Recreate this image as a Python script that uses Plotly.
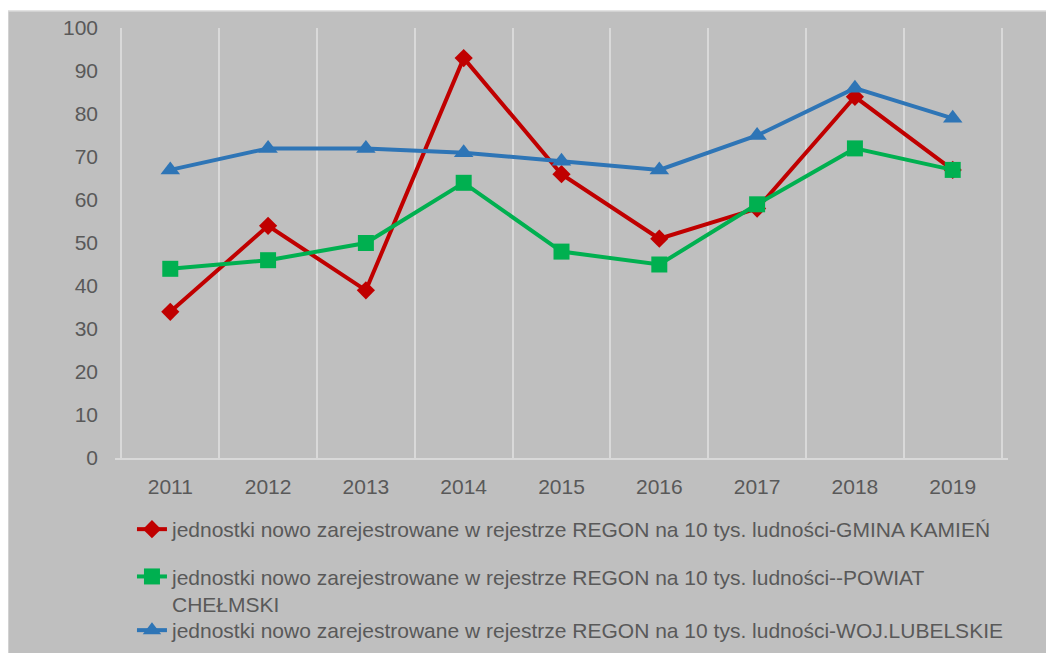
import plotly.graph_objects as go

years = ["2011", "2012", "2013", "2014", "2015", "2016", "2017", "2018", "2019"]
gmina_kamien = [34, 54, 39, 93, 66, 51, 58, 84, 67]
powiat_chelmski = [44, 46, 50, 64, 48, 45, 59, 72, 67]
woj_lubelskie = [67, 72, 72, 71, 69, 67, 75, 86, 79]

names = [
    "jednostki nowo zarejestrowane w rejestrze REGON na 10 tys. ludności-GMINA KAMIEŃ",
    "jednostki nowo zarejestrowane w rejestrze REGON na 10 tys. ludności--POWIAT<br>CHEŁMSKI",
    "jednostki nowo zarejestrowane w rejestrze REGON na 10 tys. ludności-WOJ.LUBELSKIE",
]

W, H = 1046, 645
L, R, T, B = 107, 46, 20, 195
pw, ph = W - L - R, H - T - B

fig = go.Figure()
fig.add_trace(go.Scatter(x=years, y=gmina_kamien, name=names[0], mode="lines+markers",
                         line=dict(color="#C00000", width=4),
                         marker=dict(symbol="diamond", size=14, color="#C00000"),
                         legendgroup="a", legend="legend"))
fig.add_trace(go.Scatter(x=years, y=powiat_chelmski, name=names[1], mode="lines+markers",
                         line=dict(color="#00B050", width=4),
                         marker=dict(symbol="square", size=16, color="#00B050"),
                         legendgroup="b", legend="legend"))
fig.add_trace(go.Scatter(x=years, y=woj_lubelskie, name=names[2], mode="lines+markers",
                         line=dict(color="#2E75B6", width=4),
                         marker=dict(symbol="triangle-up", size=17, color="#2E75B6"),
                         legend="legend2"))

font = dict(family="Liberation Sans, Arial, sans-serif", size=21, color="#595959")

fig.add_shape(type="rect", xref="paper", yref="paper", layer="below",
              x0=-L / pw, x1=(W + 5 - L) / pw,
              y0=-(B + 5) / ph, y1=(ph + T - 3) / ph,
              fillcolor="#BFBFBF", line=dict(color="#D9D9D9", width=1.5))

legend_common = dict(orientation="v", x=0.019, xanchor="left", yref="container",
                     yanchor="top", bgcolor="rgba(0,0,0,0)", font=font, valign="top")

fig.update_layout(
    width=W, height=H,
    margin=dict(l=L, r=R, t=T, b=B, pad=0, autoexpand=False),
    paper_bgcolor="white", plot_bgcolor="#BFBFBF",
    font=font,
    showlegend=True,
    legend=dict(legend_common, y=1 - 501 / H, traceorder="grouped", tracegroupgap=17),
    legend2=dict(legend_common, y=1 - 602 / H),
    xaxis=dict(type="category", tickson="boundaries", showgrid=True, gridcolor="#D9D9D9",
               gridwidth=2, showline=True, linecolor="#D9D9D9", linewidth=2,
               ticks="", ticklabelstandoff=9, zeroline=False, fixedrange=True,
               automargin=False),
    yaxis=dict(range=[0, 100], dtick=10, showgrid=False, zeroline=False, showline=False,
               ticks="", ticklabelstandoff=16, fixedrange=True, automargin=False),
)

fig.write_html("out.html")
